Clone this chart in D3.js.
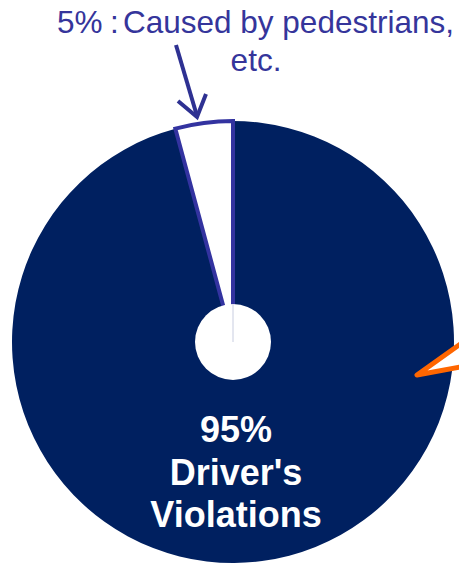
<!DOCTYPE html>
<html>
<head>
<meta charset="utf-8">
<script src="https://cdn.jsdelivr.net/npm/d3@7"></script>
<style>
  html, body { margin: 0; padding: 0; background: #fff; }
  svg { display: block; font-family: "Liberation Sans", Arial, sans-serif; }
</style>
</head>
<body>
<svg id="chart" width="459" height="564"></svg>
<script>
// Data (slice shares as drawn in the picture; labels as printed)
const categories = ["Caused by pedestrians, etc.", "Driver's Violations"];
const shares = [4.2, 95.8];
const labels = ["5%", "95%"];
const colors = ["#ffffff", "#002060"];

const svg = d3.select("#chart");
const cx = 233, cy = 342, R = 221, hole = 38;

const total = d3.sum(shares);
const pie = d3.pie().sort(null).value(d => d)
  .startAngle(-2 * Math.PI * shares[0] / total)
  .endAngle(2 * Math.PI - 2 * Math.PI * shares[0] / total);
const arcs = pie(shares);
const arc = d3.arc().innerRadius(0).outerRadius(R);

const g = svg.append("g").attr("transform", `translate(${cx},${cy})`);

// big slice first, small outlined slice on top
g.append("path").datum(arcs[1]).attr("d", arc).attr("fill", colors[1]);
g.append("path").datum(arcs[0]).attr("d", arc)
  .attr("fill", colors[0])
  .attr("stroke", "#3333a0").attr("stroke-width", 4)
  .attr("stroke-linejoin", "miter");

// center hole
g.append("circle").attr("r", hole).attr("fill", "#fff");
g.append("line").attr("x1", 0).attr("y1", 0).attr("x2", 0).attr("y2", -hole)
  .attr("stroke", "#c8cde0").attr("stroke-width", 1);

// orange callout pointer at right edge
svg.append("path")
  .attr("d", "M466,340 L417,375 L466,366")
  .attr("fill", "#fff").attr("stroke", "#ff6600").attr("stroke-width", 5)
  .attr("stroke-linejoin", "round");

// 95% label inside
const inner = svg.append("text")
  .attr("text-anchor", "middle")
  .attr("fill", "#fff").attr("font-weight", "bold").attr("font-size", 36);
[labels[1], "Driver's", "Violations"].forEach((t, i) => {
  inner.append("tspan").attr("x", 236).attr("y", 442 + i * 42.5).text(t);
});

// annotation text
const purple = "#35359b";
svg.append("text").attr("x", 57).attr("y", 33).attr("font-size", 31.5)
  .attr("fill", purple).text(labels[0]);
svg.append("text").attr("x", 110).attr("y", 33).attr("font-size", 31.5)
  .attr("fill", purple).text(":");
svg.append("text").attr("x", 123).attr("y", 33).attr("font-size", 31.5)
  .attr("fill", purple).text("Caused by pedestrians,");
svg.append("text").attr("x", 256).attr("y", 71).attr("font-size", 31.5)
  .attr("text-anchor", "middle").attr("fill", purple).text("etc.");

// arrow
svg.append("path").attr("d", "M176,45 L197,116")
  .attr("stroke", "#2e3192").attr("stroke-width", 4).attr("fill", "none");
svg.append("path").attr("d", "M178,101 L197,117 L206,94")
  .attr("stroke", "#2e3192").attr("stroke-width", 4).attr("fill", "none")
  .attr("stroke-linejoin", "miter");
</script>
</body>
</html>
